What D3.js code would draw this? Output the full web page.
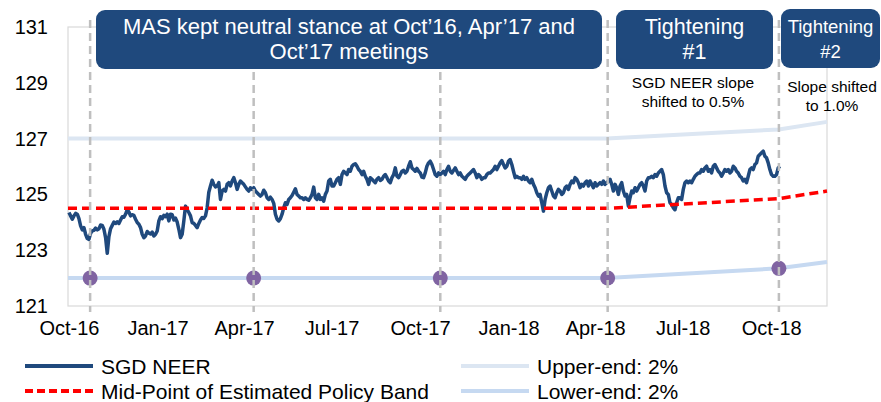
<!DOCTYPE html>
<html>
<head>
<meta charset="utf-8">
<script src="https://cdn.jsdelivr.net/npm/d3@7"></script>
<style>
body { margin: 0; background: #fff; }
text { font-family: Arial, "Liberation Sans", sans-serif; }
.axis text { font-size: 20px; fill: #000; }
</style>
</head>
<body>
<div class="d3"></div>
<script>
// SGD NEER, evenly spaced readings between the two dates
var neerStart = "2016-10-01";
var neerEnd = "2018-10-10";
var neerValues = [
	124.35,124.23,124.11,124.23,124.32,124.29,124.13,123.87,123.73,123.81,
	123.57,123.42,123.39,123.61,123.69,123.71,123.79,123.73,123.77,123.90,
	123.89,123.75,123.45,122.89,123.49,123.77,123.89,124.01,123.96,124.02,
	123.96,124.08,124.20,124.18,124.29,124.46,124.37,124.23,124.27,124.25,
	124.11,123.99,123.93,123.81,123.57,123.45,123.51,123.67,123.61,123.58,
	123.65,123.51,123.57,123.69,124.05,124.20,124.13,124.25,124.20,124.29,
	124.05,124.29,124.27,124.08,124.15,124.01,123.75,123.45,123.57,124.05,
	124.58,124.46,124.35,124.23,123.99,123.96,123.89,123.81,123.96,124.08,
	124.17,124.14,124.23,124.52,125.08,125.30,125.51,125.36,125.27,125.30,
	125.42,124.82,125.12,125.18,125.12,125.36,125.42,125.30,125.48,125.60,
	125.42,125.18,125.36,125.48,125.42,125.36,125.27,125.18,125.12,125.24,
	125.18,125.24,125.12,125.06,125.00,124.94,125.00,125.15,125.06,124.88,
	124.82,124.90,124.82,124.68,124.29,124.11,124.05,124.13,124.29,124.52,
	124.70,124.64,124.82,124.88,124.96,125.08,125.20,125.00,124.94,124.88,
	124.88,124.82,
	124.88,124.82,124.79,124.88,125.00,125.26,124.88,124.82,125.00,124.82,
	124.88,124.76,125.00,125.12,125.48,125.54,125.30,125.30,125.42,125.54,
	125.60,125.36,125.71,125.83,125.77,125.71,125.89,125.83,126.01,126.07,
	126.10,126.01,125.89,125.83,125.71,125.83,125.65,125.54,125.36,125.60,
	125.54,125.48,125.42,125.54,125.60,125.50,125.54,125.65,125.71,125.60,
	125.48,125.42,125.60,125.71,125.95,125.65,125.60,125.71,125.83,125.86,
	125.77,125.83,126.01,126.17,125.95,125.89,125.83,125.93,125.83,125.77,
	125.62,125.60,
	125.77,126.01,126.13,126.19,126.07,125.89,125.71,125.65,125.77,125.71,
	125.77,125.83,125.71,125.89,126.01,125.83,125.77,125.86,125.95,125.83,
	125.71,125.77,125.65,125.60,125.54,125.65,125.71,125.77,125.83,125.89,
	125.77,125.60,125.71,125.65,125.54,125.60,125.60,125.71,125.77,125.77,
	125.83,125.89,126.01,125.89,126.01,126.13,126.21,126.07,125.95,126.01,
	126.19,126.25,126.07,125.83,125.60,125.65,125.60,125.60,125.54,125.65,
	125.54,125.60,125.48,125.42,125.54,125.36,125.24,125.06,124.94,125.00,
	124.70,124.40,
	124.82,125.06,125.24,125.30,125.12,124.94,124.88,125.06,125.18,125.12,
	125.00,125.06,125.24,125.30,125.18,125.36,125.48,125.42,125.60,125.54,
	125.42,125.24,125.36,125.30,125.42,125.48,125.30,125.48,125.36,125.24,
	125.42,125.30,125.36,125.42,125.36,125.48,125.36,125.42,125.48,125.54,
	125.36,125.12,125.36,125.24,125.00,125.30,125.42,125.12,124.94,125.00,
	124.58,124.88,125.12,125.06,125.24,125.12,125.24,125.36,125.42,125.30,
	125.12,125.48,125.60,125.60,125.65,125.60,125.71,125.65,125.77,125.83,
	125.89,125.71,
	125.30,125.06,125.00,124.70,124.64,124.52,124.45,124.70,124.88,124.88,
	124.82,125.18,125.42,125.48,125.42,125.48,125.42,125.54,125.65,125.71,
	125.77,125.77,125.89,125.83,125.95,126.01,125.83,125.89,125.77,126.01,
	126.07,125.95,125.83,125.77,125.65,125.77,125.89,125.83,125.89,125.77,
	125.83,126.01,125.95,125.83,125.77,125.65,125.60,125.48,125.54,125.42,
	125.65,125.89,125.95,125.89,126.07,126.13,126.37,126.43,126.49,126.55,
	126.37,126.31,126.13,125.89,125.71,125.65,125.65,125.71,125.95,126.01
];

// estimated policy band (turning points)
var bandDates = ["2016-09-30", "2018-04-13", "2018-10-09", "2018-11-28"];
var midValues = [124.5, 124.5, 124.85, 125.12];
var upperValues = [127.0, 127.0, 127.33, 127.6];
var lowerValues = [122.0, 122.0, 122.35, 122.58];

// MAS policy meetings (as drawn)
var meetingDates = ["2016-10-23", "2017-04-11", "2017-10-22", "2018-04-14", "2018-10-09"];

var xTickDates = ["2016-10-01", "2017-01-01", "2017-04-01", "2017-07-01", "2017-10-01",
	"2018-01-01", "2018-04-01", "2018-07-01", "2018-10-01"];
var yTicks = [121, 123, 125, 127, 129, 131];
var xDomain = ["2016-09-30", "2018-11-28"];

var parse = d3.timeParse("%Y-%m-%d");

var w = 881, h = 402;
var plotLeft = 68, plotRight = 827, plotTop = 27, plotBottom = 306;

var svg = d3.select(".d3")
	.append("svg")
	.attr("width", w)
	.attr("height", h);

var xScale = d3.scaleTime()
	.domain(xDomain.map(parse))
	.range([plotLeft, plotRight]);
var yScale = d3.scaleLinear()
	.domain([121, 131])
	.range([plotBottom, plotTop]);

// build series
var t0 = parse(neerStart).getTime(), t1 = parse(neerEnd).getTime();
var idx = d3.scaleLinear().domain([0, neerValues.length - 1]).range([t0, t1]);
var neer = neerValues.map((v, i) => ({date: new Date(idx(i)), value: v}));
var band = bandDates.map((d, i) => ({
	date: parse(d), mid: midValues[i], upper: upperValues[i], lower: lowerValues[i]
}));

function lowerAt(date) {
	var t = date.getTime();
	for (var i = 1; i < band.length; i++) {
		var a = band[i - 1], b = band[i];
		if (t <= b.date.getTime()) {
			var f = (t - a.date) / (b.date - a.date);
			return a.lower + f * (b.lower - a.lower);
		}
	}
	return band[band.length - 1].lower;
}

// plot border
svg.append("rect")
	.attr("x", plotLeft)
	.attr("y", plotTop)
	.attr("width", plotRight - plotLeft)
	.attr("height", plotBottom - plotTop)
	.attr("fill", "none")
	.attr("stroke", "#d9d9d9")
	.attr("stroke-width", 1.2);

var line = d3.line().x(d => xScale(d.date));

svg.append("path")
	.datum(band)
	.attr("fill", "none")
	.attr("stroke", "#dce6f2")
	.attr("stroke-width", 4)
	.attr("d", line.y(d => yScale(d.upper)));

svg.append("path")
	.datum(band)
	.attr("fill", "none")
	.attr("stroke", "#c6d9f1")
	.attr("stroke-width", 4)
	.attr("d", line.y(d => yScale(d.lower)));

svg.append("path")
	.datum(neer)
	.attr("fill", "none")
	.attr("stroke", "#1f497d")
	.attr("stroke-width", 3.5)
	.attr("stroke-linejoin", "round")
	.attr("d", line.y(d => yScale(d.value)));

svg.append("path")
	.datum(band)
	.attr("fill", "none")
	.attr("stroke", "#ff0000")
	.attr("stroke-width", 3.5)
	.attr("stroke-dasharray", "9,5")
	.attr("d", line.y(d => yScale(d.mid)));

// meeting markers
var meetings = meetingDates.map(parse);
svg.selectAll(".dot")
	.data(meetings)
	.enter().append("circle")
	.attr("class", "dot")
	.attr("cx", d => xScale(d))
	.attr("cy", d => yScale(lowerAt(d)))
	.attr("r", 7.5)
	.attr("fill", "#8064a2");

svg.selectAll(".meet")
	.data(meetings)
	.enter().append("line")
	.attr("class", "meet")
	.attr("x1", d => xScale(d))
	.attr("x2", d => xScale(d))
	.attr("y1", 20)
	.attr("y2", 312)
	.attr("stroke", "#bfbfbf")
	.attr("stroke-width", 2.5)
	.attr("stroke-dasharray", "8,5");

// axes
var xAxis = d3.axisBottom(xScale)
	.tickValues(xTickDates.map(parse))
	.tickFormat(d3.timeFormat("%b-%y"))
	.tickSize(0)
	.tickPadding(15);
svg.append("g")
	.attr("class", "axis")
	.attr("transform", "translate(0," + plotBottom + ")")
	.call(xAxis)
	.call(g => g.select(".domain").remove());

var yAxis = d3.axisLeft(yScale)
	.tickValues(yTicks)
	.tickSize(0)
	.tickPadding(20);
svg.append("g")
	.attr("class", "axis")
	.attr("transform", "translate(" + plotLeft + ",0)")
	.call(yAxis)
	.call(g => g.select(".domain").remove());

// annotation boxes
var boxes = [
	{x: 96, y: 10, w: 506, h: 59, size: 22, lines: ["MAS kept neutral stance at Oct\u201916, Apr\u201917 and", "Oct\u201917 meetings"]},
	{x: 616, y: 10, w: 157, h: 59, size: 21.5, lines: ["Tightening", "#1"]},
	{x: 781, y: 9, w: 99, h: 59, size: 18.5, lines: ["Tightening", "#2"]}
];
var bg = svg.selectAll(".box")
	.data(boxes)
	.enter().append("g")
	.attr("class", "box");
bg.append("rect")
	.attr("x", d => d.x)
	.attr("y", d => d.y)
	.attr("width", d => d.w)
	.attr("height", d => d.h)
	.attr("rx", 9)
	.attr("fill", "#1f497d");
bg.each(function(d) {
	var g = d3.select(this);
	d.lines.forEach((t, i) => {
		g.append("text")
			.attr("x", d.x + d.w / 2)
			.attr("y", d.y + 24 + i * 25)
			.attr("text-anchor", "middle")
			.attr("fill", "#fff")
			.attr("font-size", d.size + "px")
			.text(t);
	});
});

var notes = [
	{x: 693, y: 88, lines: ["SGD NEER slope", "shifted to 0.5%"]},
	{x: 832, y: 92, lines: ["Slope shifted", "to 1.0%"]}
];
notes.forEach(n => {
	n.lines.forEach((t, i) => {
		svg.append("text")
			.attr("x", n.x)
			.attr("y", n.y + i * 18.5)
			.attr("text-anchor", "middle")
			.attr("font-size", "15.5px")
			.attr("fill", "#000")
			.text(t);
	});
});

// legend
var legendItems = [
	{label: "SGD NEER", color: "#1f497d", dash: null, x: 25, y: 366},
	{label: "Mid-Point of Estimated Policy Band", color: "#ff0000", dash: "8,4", x: 25, y: 391},
	{label: "Upper-end: 2%", color: "#dce6f2", dash: null, x: 461, y: 366},
	{label: "Lower-end: 2%", color: "#c6d9f1", dash: null, x: 461, y: 391}
];
var lg = svg.selectAll(".legend")
	.data(legendItems)
	.enter().append("g")
	.attr("class", "legend")
	.attr("transform", d => "translate(" + d.x + "," + d.y + ")");
lg.append("line")
	.attr("x1", 0)
	.attr("x2", 68)
	.attr("stroke", d => d.color)
	.attr("stroke-width", 4)
	.attr("stroke-dasharray", d => d.dash);
lg.append("text")
	.attr("x", 76)
	.attr("dy", "0.36em")
	.attr("font-size", "21px")
	.attr("fill", "#000")
	.text(d => d.label);
</script>
</body>
</html>
